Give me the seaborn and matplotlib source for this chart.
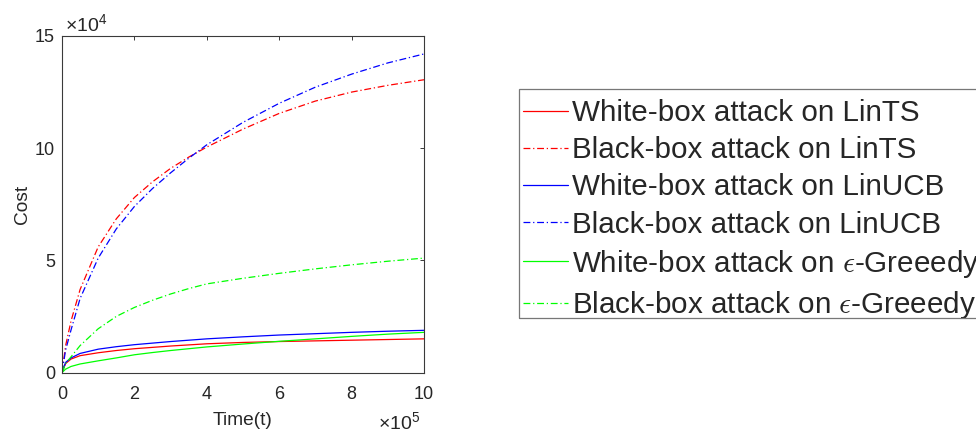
import numpy as np
import pandas as pd
import matplotlib
matplotlib.use("Agg")
import matplotlib.pyplot as plt
import seaborn as sns
from matplotlib.font_manager import FontProperties
from matplotlib.patches import Rectangle

# ---- data (time in units of 1e5, cost in units of 1e4) ----
time_e5 = [0, 0.1, 0.25, 0.5, 1, 1.5, 2, 2.5, 3, 3.5, 4, 5, 6, 7, 8, 9, 10]
white_lints = [0, 0.40, 0.60, 0.75, 0.88, 0.98, 1.06, 1.12, 1.18, 1.23, 1.28, 1.34, 1.38, 1.41, 1.44, 1.47, 1.50]
black_lints = [0, 1.20, 2.30, 3.70, 5.60, 6.85, 7.80, 8.50, 9.10, 9.60, 10.05, 10.85, 11.55, 12.10, 12.50, 12.80, 13.05]
white_linucb = [0, 0.45, 0.65, 0.85, 1.04, 1.15, 1.24, 1.31, 1.38, 1.44, 1.50, 1.59, 1.67, 1.73, 1.79, 1.84, 1.88]
black_linucb = [0, 1.00, 1.90, 3.30, 5.10, 6.40, 7.40, 8.20, 8.90, 9.55, 10.15, 11.15, 12.00, 12.72, 13.30, 13.80, 14.20]
white_egreedy = [0, 0.15, 0.27, 0.38, 0.52, 0.65, 0.79, 0.89, 0.98, 1.06, 1.14, 1.27, 1.39, 1.50, 1.61, 1.71, 1.79]
black_egreedy = [0, 0.40, 0.70, 1.20, 1.95, 2.50, 2.90, 3.22, 3.50, 3.74, 3.95, 4.20, 4.42, 4.62, 4.80, 4.96, 5.10]

labels = [
    "White-box attack on LinTS",
    "Black-box attack on LinTS",
    "White-box attack on LinUCB",
    "Black-box attack on LinUCB",
    r"White-box attack on $\epsilon$-Greeedy",
    r"Black-box attack on $\epsilon$-Greeedy",
]
series = [white_lints, black_lints, white_linucb, black_linucb, white_egreedy, black_egreedy]
colors = ["#ff0000", "#ff0000", "#0000ff", "#0000ff", "#00ff00", "#00ff00"]

x_ticks = [0, 2, 4, 6, 8, 10]
y_ticks = [0, 5, 10, 15]

sns.set_theme(style="white")
plt.rcParams["font.family"] = ["Liberation Sans", "DejaVu Sans"]
plt.rcParams["mathtext.fontset"] = "custom"
plt.rcParams["mathtext.rm"] = "Liberation Sans"
plt.rcParams["mathtext.it"] = "Liberation Sans:italic"

fig = plt.figure(figsize=(9.76, 4.32), dpi=100)
ax = fig.add_axes([62 / 976, 1 - 372.5 / 432, (424 - 62) / 976, (372.5 - 36) / 432])

dashdot = (0, (5.5, 2.2, 1, 2.2))
for i, (vals, lab, col) in enumerate(zip(series, labels, colors)):
    ls = "-" if i % 2 == 0 else dashdot
    sns.lineplot(x=time_e5, y=vals, ax=ax, color=col, linestyle=ls,
                 linewidth=0.9, label=lab, legend=False)

ax.set_xlim(0, 10)
ax.set_ylim(0, 15)
ax.set_xticks(x_ticks)
ax.set_yticks(y_ticks)
ax.set_xticklabels([str(t) for t in x_ticks])
ax.set_yticklabels([str(t) for t in y_ticks])

spine_col = "#3a3a3a"
for s in ax.spines.values():
    s.set_visible(True)
    s.set_color(spine_col)
    s.set_linewidth(0.8)

ax.tick_params(axis="both", direction="in", length=3.2, width=0.7, color=spine_col,
               top=True, right=True, labelsize=13, labelcolor="#262626")
ax.tick_params(axis="x", pad=9.5)
ax.tick_params(axis="y", pad=5)

ax.set_xlabel("Time(t)", fontsize=13.8, color="#262626", labelpad=7)
ax.set_ylabel("Cost", fontsize=13.8, color="#262626", labelpad=3)

# multipliers
fig.text(65 / 976, 1 - 31.5 / 432, r"$\times\mathregular{10}^{4}$", fontsize=14,
         color="#262626", ha="left", va="baseline")
fig.text(420 / 976, 1 - 429 / 432, r"$\times\mathregular{10}^{5}$", fontsize=14,
         color="#262626", ha="right", va="baseline")

# legend (frameless) plus a separately drawn frame box
leg_prop = FontProperties(family="Liberation Sans", size=21.3, math_fontfamily="cm")
handles, labs = ax.get_legend_handles_labels()
leg = ax.legend(handles, labs, loc="upper left",
                bbox_to_anchor=(523.3 / 976, 1 - 99.0 / 432), bbox_transform=fig.transFigure,
                borderaxespad=0, prop=leg_prop, frameon=False, handlelength=1.52,
                handletextpad=0.115, borderpad=0, labelspacing=0.31)

frame = Rectangle((519 / 976, 1 - 318.3 / 432), 500 / 976, (318.3 - 89.3) / 432,
                  transform=fig.transFigure, fill=False, edgecolor="#777777",
                  linewidth=0.9, zorder=5)
fig.add_artist(frame)

fig.savefig("out.png", dpi=100)
